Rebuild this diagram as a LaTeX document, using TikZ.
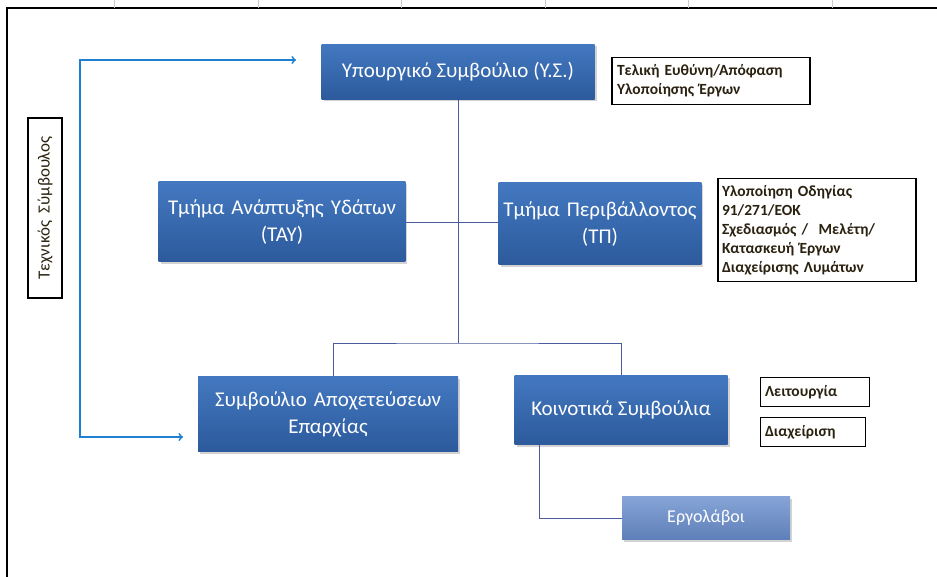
\documentclass[tikz,border=0pt]{standalone}
\usepackage{fontspec}
\setmainfont{Carlito}
\usetikzlibrary{arrows, shadows}
\definecolor{unittop}{HTML}{4378C0}
\definecolor{unitbot}{HTML}{2C5A9C}
\definecolor{lighttop}{HTML}{86A4D6}
\definecolor{lightbot}{HTML}{5E7FB9}
\definecolor{linkblue}{HTML}{4B5C9C}
\definecolor{feedblue}{HTML}{1F80D2}
\definecolor{notetext}{HTML}{2A2110}
\tikzstyle{unit} = [rectangle, 
minimum height=1cm, 
text centered, 
top color=unittop, 
bottom color=unitbot, 
text=white, 
font=\fontsize{21}{27}\selectfont,
drop shadow={opacity=0.35, shadow xshift=2pt, shadow yshift=-2pt}]
\tikzstyle{lightunit} = [unit, 
top color=lighttop, 
bottom color=lightbot, 
font=\fontsize{18}{21}\selectfont]
\tikzstyle{note} = [rectangle, 
draw=black, 
line width=1.2pt, 
align=left, 
inner sep=4pt,
text=notetext, 
font=\bfseries\fontsize{15.5}{19}\selectfont]
\tikzstyle{link} = [draw=linkblue, line width=0.8pt]
\tikzstyle{feed} = [draw=feedblue, line width=1.8pt, <->, >=to]

\begin{document}
\begin{tikzpicture}[x=1pt, y=-1pt, node distance=150pt]
\useasboundingbox (0,0) rectangle (937,577);

% page frame
\draw[line width=1.6pt] (7,577) -- (7,8) -- (937,8);
\foreach \t in {114,258,401,545,688,832}
  \draw[black!20, line width=0.5pt] (\t,0) -- (\t,8);

\node (ys) [unit, minimum width=273pt, minimum height=55pt] at (458,72) {Υπουργικό Συμβούλιο (Υ.Σ.)};
\node (tay) [unit, minimum width=245pt, minimum height=80pt, text width=240pt, below of=ys, xshift=-176pt] {Τμήμα Ανάπτυξης Υδάτων\\(ΤΑΥ)};
\node (tp) [unit, minimum width=200pt, minimum height=82pt, text width=196pt, below of=ys, xshift=142pt, yshift=-2pt] {Τμήμα Περιβάλλοντος\\(ΤΠ)};
\node (sae) [unit, minimum width=260pt, minimum height=75pt, text width=252pt, below of=tay, xshift=46pt, yshift=-42pt] {Συμβούλιο Αποχετεύσεων\\Επαρχίας};
\node (ks) [unit, minimum width=213pt, minimum height=69pt, below of=tp, xshift=21pt, yshift=-36pt] {Κοινοτικά Συμβούλια};
\node (erg) [lightunit, minimum width=168pt, minimum height=43pt, below of=ks, xshift=85pt, yshift=42pt] {Εργολάβοι};

%\node notes
\node (goal) [note, minimum width=198pt, minimum height=47pt, text width=188pt] at (711,81) {Τελική Ευθύνη/Απόφαση\\Υλοποίησης Έργων};
\node (tpnote) [note, minimum width=198pt, minimum height=103pt, text width=190pt] at (817,230) {Υλοποίηση Οδηγίας\\91/271/ΕΟΚ\\Σχεδιασμός /\ \ Μελέτη/\\Κατασκευή Έργων\\Διαχείρισης Λυμάτων};
\node (leit) [note, minimum width=109pt, minimum height=29pt, text width=100pt] at (815,392) {Λειτουργία};
\node (diax) [note, minimum width=105pt, minimum height=29pt, text width=96pt] at (813,432) {Διαχείριση};
\node (tech) [rectangle, draw=black, line width=1.2pt, rotate=90, minimum width=180pt, minimum height=34pt, text=notetext, font=\fontsize{17}{19}\selectfont] at (45,208) {Τεχνικός\ \ Σύμβουλος};

\coordinate (fork) at (458,343);
\coordinate (bendtop) at (80,60);
\coordinate (bendbot) at (80,437);
\coordinate (tiptop) at (296,60);
\coordinate (tipbot) at (183,437);

\draw [link] (ys.south) -- (fork);
\draw [link] (tay.east) -- (tay.east -| tp.west);
\draw [link] ([xshift=5pt]sae.north) |- (fork) -| (ks.north);
\draw [link] ([xshift=25pt]ks.south west) |- (erg.west);
\draw [feed] (tiptop) -- (bendtop) -- (bendbot) -- (tipbot);

\end{tikzpicture}
\end{document}
